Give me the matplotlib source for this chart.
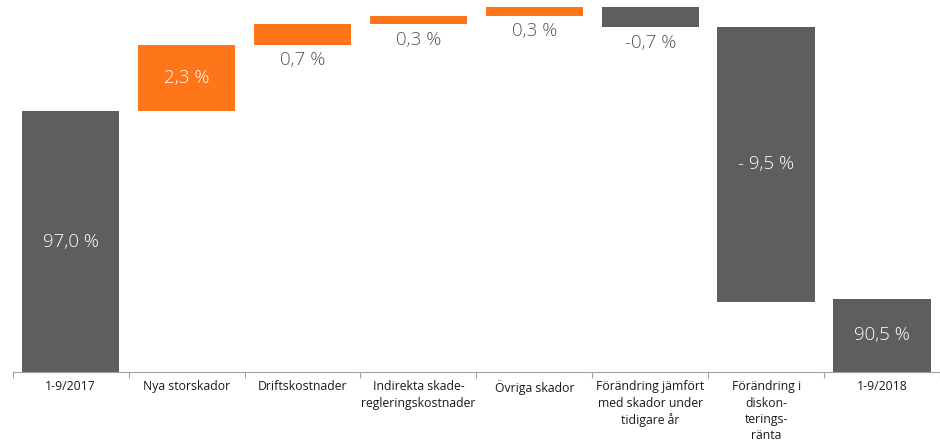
import matplotlib.pyplot as plt
import numpy as np

plt.rcParams['font.family'] = ['Open Sans', 'DejaVu Sans']

# Waterfall data
categories = ['1-9/2017', 'Nya storskador', 'Driftskostnader',
              'Indirekta skade-\nregleringskostnader', 'Övriga skador',
              'Förändring jämfört\nmed skador under\ntidigare år',
              'Förändring i\ndiskon-\nterings-\nränta', '1-9/2018']
values = [97.0, 2.3, 0.7, 0.3, 0.3, -0.7, -9.5, 90.5]
is_total = [True, False, False, False, False, False, False, True]
labels = ['97,0 %', '2,3 %', '0,7 %', '0,3 %', '0,3 %', '-0,7 %', '- 9,5 %', '90,5 %']
inside = [True, True, False, False, False, False, True, True]

ORANGE = '#FF7519'
GREY = '#5E5E5E'
BASE = 87.97

# work out bar bottoms / heights
bottoms, heights, colors = [], [], []
running = 0.0
for v, tot in zip(values, is_total):
    if tot:
        bottoms.append(BASE)
        heights.append(v - BASE)
        running = v
        colors.append(GREY)
    else:
        if v >= 0:
            bottoms.append(running)
            heights.append(v)
            colors.append(ORANGE)
        else:
            bottoms.append(running + v)
            heights.append(-v)
            colors.append(GREY)
        running += v

fig = plt.figure(figsize=(9.4, 4.45), dpi=100)
ax = fig.add_axes([12.7 / 940, 73 / 445, (940 - 12.7) / 940, 372 / 445])

x = np.arange(len(categories))
ax.bar(x, heights, bottom=bottoms, width=0.84, color=colors)

ax.set_xlim(-0.5, -0.5 + (940 - 12.7) / 116.9)
ax.set_ylim(BASE, BASE + 372 / 28.9)

for i in range(len(categories)):
    if inside[i]:
        ax.text(x[i], bottoms[i] + heights[i] / 2, labels[i], ha='center', va='center',
                color='white', fontsize=13.5, fontweight='light')
    else:
        ax.annotate(labels[i], (x[i], bottoms[i]), xytext=(0, -11), textcoords='offset points',
                    ha='center', va='center', color='#555555', fontsize=13.5,
                    fontweight='light')

# x axis: ticks between categories, labels centred
for s in ['top', 'right', 'left']:
    ax.spines[s].set_visible(False)
ax.spines['bottom'].set_color('#A0A0A0')
ax.set_yticks([])
ax.set_xticks(np.arange(len(categories) + 1) - 0.5)
ax.set_xticklabels([])
ax.tick_params(axis='x', length=4, color='#A0A0A0', direction='out')
ax.set_xticks(x, minor=True)
ax.set_xticklabels(categories, minor=True, fontsize=8.8, color='#1A1A1A', linespacing=1.32)
ax.tick_params(axis='x', which='minor', length=0, pad=6)

fig.savefig('out.png', dpi=100)
